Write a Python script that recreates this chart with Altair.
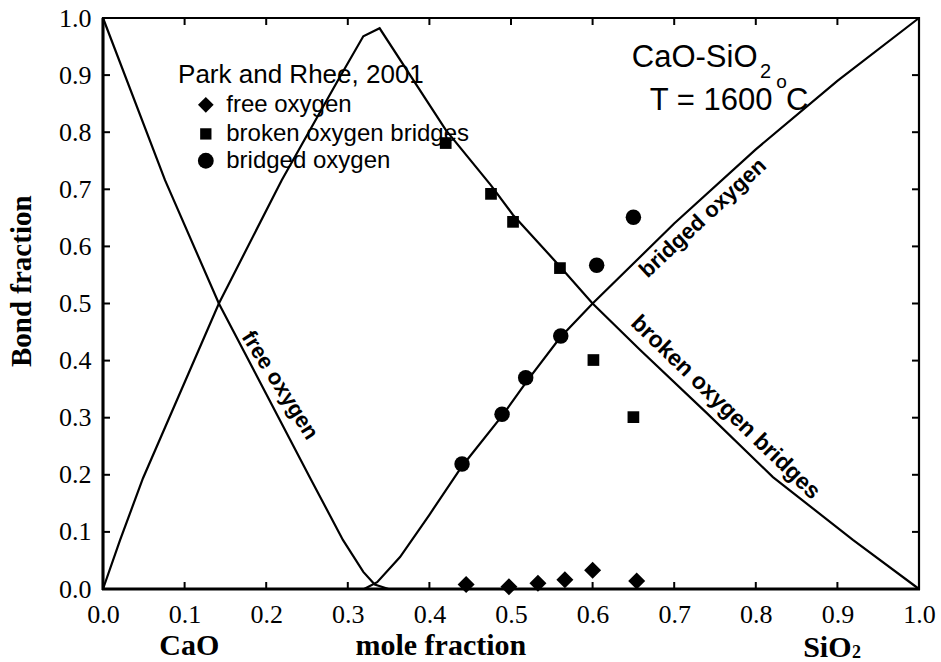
import altair as alt
import pandas as pd

# ---------------- data ----------------
free_line_x = [0.0, 0.076, 0.142, 0.254, 0.294, 0.319, 0.333, 0.35, 0.40]
free_line_y = [1.0, 0.716, 0.500, 0.194, 0.086, 0.030, 0.008, 0.0, 0.0]

broken_line_x = [0.0, 0.021, 0.049, 0.142, 0.219, 0.288, 0.319, 0.339, 0.42, 0.4755,
                 0.5025, 0.56, 0.60, 0.658, 0.74, 0.821, 0.919, 1.0]
broken_line_y = [0.0, 0.086, 0.194, 0.500, 0.716, 0.891, 0.968, 0.982, 0.804, 0.707,
                 0.655, 0.565, 0.500, 0.419, 0.308, 0.196, 0.086, 0.0]

bridged_line_x = [0.32, 0.336, 0.364, 0.40, 0.44, 0.49, 0.52, 0.56, 0.60, 0.70, 0.80, 0.90, 1.0]
bridged_line_y = [0.0, 0.012, 0.056, 0.130, 0.215, 0.305, 0.365, 0.440, 0.500, 0.640, 0.770, 0.890, 1.0]

free_pts_x = [0.445, 0.4975, 0.533, 0.566, 0.600, 0.654]
free_pts_y = [0.008, 0.004, 0.010, 0.016, 0.033, 0.014]
broken_pts_x = [0.420, 0.4755, 0.5025, 0.560, 0.601, 0.650]
broken_pts_y = [0.781, 0.692, 0.643, 0.562, 0.401, 0.301]
bridged_pts_x = [0.440, 0.489, 0.518, 0.561, 0.605, 0.650]
bridged_pts_y = [0.219, 0.306, 0.370, 0.443, 0.567, 0.651]

series_names = ["free oxygen", "broken oxygen bridges", "bridged oxygen"]
tick_labels = [0.0, 0.1, 0.2, 0.3, 0.4, 0.5, 0.6, 0.7, 0.8, 0.9, 1.0]
inner_ticks = [0.1, 0.2, 0.3, 0.4, 0.5, 0.6, 0.7, 0.8, 0.9]

# ---------------- tables ----------------
rows = []
for name, xs, ys in zip(series_names,
                        [free_line_x, broken_line_x, bridged_line_x],
                        [free_line_y, broken_line_y, bridged_line_y]):
    for i, (a, b) in enumerate(zip(xs, ys)):
        rows.append({"series": name, "i": i, "x": a, "y": b})
lines_df = pd.DataFrame(rows)

W, H = 816, 571
SERIF = "Liberation Serif"
SANS = "Liberation Sans"

xscale = alt.Scale(domain=[0, 1], nice=False, zero=False)
yscale = alt.Scale(domain=[0, 1], nice=False, zero=False)

xaxis = alt.Axis(values=tick_labels, format=".1f", title=None, grid=False, ticks=False,
                 domain=False, labelFont=SERIF, labelFontSize=26, labelColor="black",
                 labelPadding=12, labelFlush=False, labelOverlap=False)
yaxis = alt.Axis(values=tick_labels, format=".1f", title=None, grid=False, ticks=False,
                 domain=False, labelFont=SERIF, labelFontSize=26, labelColor="black",
                 labelPadding=12, labelFlush=False, labelOverlap=False)

lines = alt.Chart(lines_df).mark_line(color="black", strokeWidth=2.2).encode(
    x=alt.X("x:Q", scale=xscale, axis=xaxis),
    y=alt.Y("y:Q", scale=yscale, axis=yaxis),
    detail="series:N",
    order="i:Q",
)


def pts_layer(xs, ys, shape, size):
    df = pd.DataFrame({"x": xs, "y": ys})
    return alt.Chart(df).mark_point(
        shape=shape, size=size, filled=True, color="black", opacity=1, strokeWidth=0
    ).encode(x=alt.X("x:Q", scale=xscale), y=alt.Y("y:Q", scale=yscale))


pts_free = pts_layer(free_pts_x, free_pts_y, "diamond", 289)
pts_broken = pts_layer(broken_pts_x, broken_pts_y, "square", 137)
pts_bridged = pts_layer(bridged_pts_x, bridged_pts_y, "circle", 240)

tick_df = pd.DataFrame({"v": inner_ticks})
TL = 7
tick_bottom = alt.Chart(tick_df).mark_rule(color="black", strokeWidth=2).encode(
    x=alt.X("v:Q", scale=xscale), y=alt.value(H), y2=alt.value(H - TL))
tick_top = alt.Chart(tick_df).mark_rule(color="black", strokeWidth=2).encode(
    x=alt.X("v:Q", scale=xscale), y=alt.value(0), y2=alt.value(TL))
tick_left = alt.Chart(tick_df).mark_rule(color="black", strokeWidth=2).encode(
    y=alt.Y("v:Q", scale=yscale), x=alt.value(0), x2=alt.value(TL))
tick_right = alt.Chart(tick_df).mark_rule(color="black", strokeWidth=2).encode(
    y=alt.Y("v:Q", scale=yscale), x=alt.value(W), x2=alt.value(W - TL))

one = pd.DataFrame({"a": [0]})

# thicker left and bottom frame lines
frame_left = alt.Chart(one).mark_rule(color="black", strokeWidth=3).encode(
    x=alt.value(0), y=alt.value(0), y2=alt.value(H + 1))
frame_bottom = alt.Chart(one).mark_rule(color="black", strokeWidth=3).encode(
    y=alt.value(H), x=alt.value(-1), x2=alt.value(W + 1))


def txt(s, x, y, size, font=SANS, weight="normal", angle=0, align="left", baseline="alphabetic"):
    return alt.Chart(one).mark_text(
        text=s, font=font, fontSize=size, fontWeight=weight, angle=angle,
        align=align, baseline=baseline, color="black"
    ).encode(x=alt.X(datum=x, type="quantitative", scale=xscale),
             y=alt.Y(datum=y, type="quantitative", scale=yscale))


def sym(shape, size, x, y):
    return alt.Chart(one).mark_point(
        shape=shape, size=size, filled=True, color="black", opacity=1, strokeWidth=0
    ).encode(x=alt.X(datum=x, type="quantitative", scale=xscale),
             y=alt.Y(datum=y, type="quantitative", scale=yscale))


texts = [
    # legend
    txt("Park and Rhee, 2001", 0.092, 0.886, 26),
    sym("diamond", 246, 0.126, 0.848),
    sym("square", 128, 0.126, 0.797),
    sym("circle", 250, 0.126, 0.750),
    txt("free oxygen", 0.151, 0.848, 24, baseline="middle"),
    txt("broken oxygen bridges", 0.151, 0.797, 24, baseline="middle"),
    txt("bridged oxygen", 0.151, 0.750, 24, baseline="middle"),
    # system label
    txt("CaO-SiO", 0.648, 0.914, 31),
    txt("2", 0.805, 0.895, 20),
    txt("T = 1600", 0.670, 0.839, 31),
    txt("o", 0.825, 0.877, 19),
    txt("C", 0.837, 0.839, 31),
    # curve labels
    txt("free oxygen", 0.217, 0.357, 22, weight="bold", angle=57.5, align="center", baseline="middle"),
    txt("bridged oxygen", 0.735, 0.650, 22, weight="bold", angle=317.2, align="center", baseline="middle"),
    txt("broken oxygen bridges", 0.763, 0.318, 23, weight="bold", angle=44, align="center", baseline="middle"),
    # axis titles
    txt("CaO", 0.069, -0.116, 30, font=SERIF, weight="bold", align="left"),
    txt("mole fraction", 0.414, -0.116, 30, font=SERIF, weight="bold", align="center"),
    txt("SiO", 0.858, -0.119, 30, font=SERIF, weight="bold", align="left"),
    txt("2", 0.918, -0.1215, 18, font=SERIF, weight="bold", align="left"),
    txt("Bond fraction", -0.099, 0.539, 29, font=SERIF, weight="bold", angle=270,
        align="center", baseline="middle"),
]

chart = alt.layer(
    lines, pts_free, pts_broken, pts_bridged,
    tick_bottom, tick_top, tick_left, tick_right, frame_left, frame_bottom, *texts
).properties(
    width=W, height=H,
    padding={"left": 103, "top": 18, "right": 22, "bottom": 73},
    autosize=alt.AutoSizeParams(type="none"),
).configure_view(stroke="black", strokeWidth=2.2)

chart.save("out.html", embed_options={"renderer": "svg", "actions": False})
